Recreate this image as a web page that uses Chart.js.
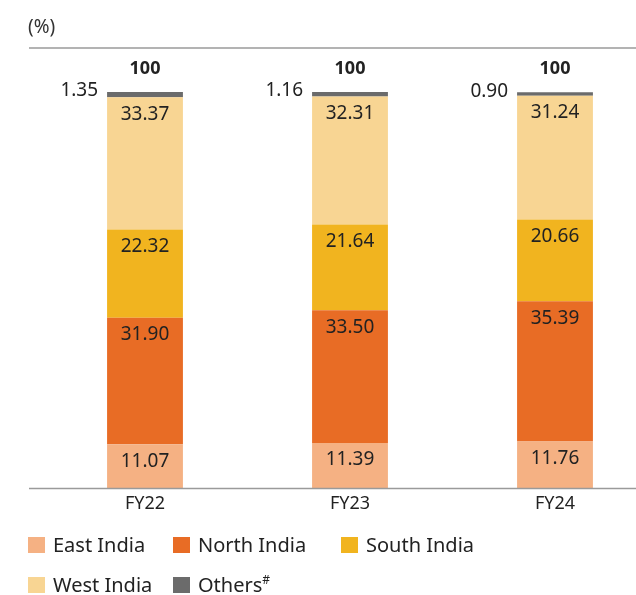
<!DOCTYPE html>
<html>
<head>
<meta charset="utf-8">
<script src="https://cdn.jsdelivr.net/npm/chart.js@4.4.1/dist/chart.umd.min.js"></script>
<style>
  html, body { margin: 0; padding: 0; background: #fff; overflow: hidden; }
  #wrap { position: relative; width: 636px; height: 595px; overflow: hidden; }
  canvas { position: absolute; left: 0; top: 0; }
  .lg { position: absolute; height: 20px; display: flex; align-items: center;
        font: 20px "Noto Sans", sans-serif; line-height: 20px; color: #222; white-space: nowrap; }
  .lg i { display: inline-block; width: 17px; height: 16px; margin-right: 8px; }
  .lg sup { font-size: 12px; line-height: 0; vertical-align: 8px; }
</style>
</head>
<body>
<div id="wrap">
  <canvas id="c" width="660" height="595"></canvas>
  <div id="legend"></div>
</div>
<script>
const years = ["FY22", "FY23", "FY24"];
const east = [11.07, 11.39, 11.76];
const north = [31.90, 33.50, 35.39];
const south = [22.32, 21.64, 20.66];
const west = [33.37, 32.31, 31.24];
const others = [1.35, 1.16, 0.90];
const totals = [100, 100, 100];

const FONT = "'Noto Sans', sans-serif";
const TEXT = "#222";

const series = [
  { label: "East India", data: east, color: "#f5b183" },
  { label: "North India", data: north, color: "#e86c25" },
  { label: "South India", data: south, color: "#f1b41f" },
  { label: "West India", data: west, color: "#f8d593" },
  { label: "Others", data: others, color: "#6b6b6b" },
];

// legend laid out in the same grid as the original (left of swatch, row centre)
const legendPos = [
  [28, 545], [173, 545], [341, 545],
  [28, 585], [173, 585],
];
const legend = document.getElementById("legend");
series.forEach((s, i) => {
  const d = document.createElement("div");
  d.className = "lg";
  d.style.left = legendPos[i][0] + "px";
  d.style.top = (legendPos[i][1] - 10) + "px";
  const txt = s.label === "Others" ? "Others<sup>#</sup>" : s.label;
  d.innerHTML = `<i style="background:${s.color}"></i><span>${txt}</span>`;
  legend.appendChild(d);
});

const labelsPlugin = {
  id: "labels",
  afterDatasetsDraw(chart) {
    const { ctx, chartArea } = chart;
    ctx.save();
    // rules
    ctx.strokeStyle = "#9a9a9a";
    ctx.lineWidth = 1.5;
    ctx.beginPath();
    ctx.moveTo(29, chartArea.top);
    ctx.lineTo(chart.width, chartArea.top);
    ctx.moveTo(29, chartArea.bottom + 0.5);
    ctx.lineTo(chart.width, chartArea.bottom + 0.5);
    ctx.stroke();

    ctx.fillStyle = "#333";
    ctx.font = "19px " + FONT;
    ctx.textAlign = "left";
    ctx.textBaseline = "middle";
    ctx.fillText("(%)", 28, 28);

    ctx.fillStyle = TEXT;
    ctx.font = "19px " + FONT;
    ctx.textAlign = "center";
    ctx.textBaseline = "middle";
    for (let d = 0; d < 4; d++) {
      chart.getDatasetMeta(d).data.forEach((bar, i) => {
        ctx.fillText(series[d].data[i].toFixed(2), bar.x, bar.y + 17);
      });
    }
    const top = chart.getDatasetMeta(4).data;
    top.forEach((bar, i) => {
      ctx.textAlign = "right";
      ctx.font = "19px " + FONT;
      ctx.fillText(others[i].toFixed(2), bar.x - bar.width / 2 - 9, bar.y - 1);
      ctx.textAlign = "center";
      ctx.font = "bold 18px " + FONT;
      ctx.fillText(String(totals[i]), bar.x, bar.y - 23);
    });
    const xs = chart.scales.x;
    ctx.font = "18px " + FONT;
    ctx.textAlign = "center";
    years.forEach((y, i) => {
      ctx.fillText(y, xs.getPixelForValue(i), chartArea.bottom + 16);
    });
    ctx.restore();
  },
};

new Chart(document.getElementById("c"), {
  type: "bar",
  data: {
    labels: years,
    datasets: series.map((s) => ({
      label: s.label,
      data: s.data,
      backgroundColor: s.color,
      borderWidth: 0,
      categoryPercentage: 1,
      barPercentage: 0.37,
    })),
  },
  options: {
    responsive: false,
    animation: false,
    layout: { padding: { left: 42.5, right: 2.5, top: 48, bottom: 107 } },
    plugins: { legend: { display: false }, tooltip: { enabled: false } },
    scales: {
      x: { stacked: true, display: false },
      y: { stacked: true, display: false, min: 0, max: 111.1 },
    },
  },
  plugins: [labelsPlugin],
});
</script>
</body>
</html>
